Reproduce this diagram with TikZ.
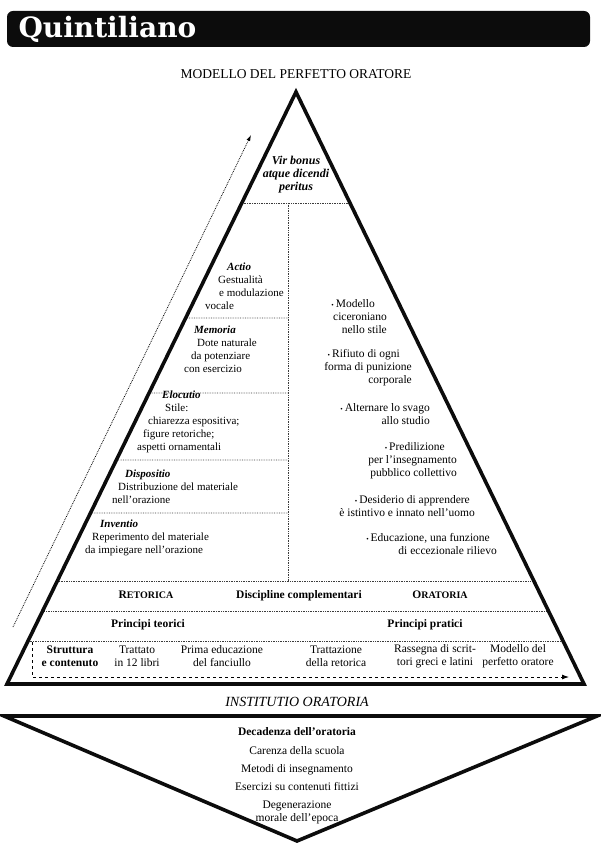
\documentclass[tikz,border=0pt]{standalone}
\usepackage{fontspec}
\setmainfont{Liberation Serif}
\newfontfamily\titlefont{DejaVu Serif}
\usepackage{tikz}
\usetikzlibrary{arrows.meta,calc}
\definecolor{inkblack}{RGB}{12,12,12}
\definecolor{dotgray}{RGB}{60,60,60}

\begin{document}
\begin{tikzpicture}[x=1pt,y=-1pt,>=Stealth,
    edge/.style={line width=3.6pt,inkblack,line join=miter},
    sep/.style={dotgray,densely dotted,line width=0.7pt},
    txt/.style={inner sep=0pt,font=\fontsize{11.5}{13}\selectfont},
    lft/.style={inner sep=0pt,anchor=west,align=left,font=\fontsize{11}{13}\selectfont},
    rgt/.style={inner sep=0pt,anchor=east,align=right,font=\fontsize{11.5}{13}\selectfont},
    hd/.style={inner sep=0pt,font=\fontsize{11.5}{13}\selectfont\bfseries},
    ln/.style={text height=8pt,text depth=2.5pt}]
    \useasboundingbox (0,0) rectangle (600,858);
    % title bar
    \fill[inkblack,rounded corners=6pt] (7,11) rectangle (590,47);
    \node[anchor=west,text=white,font=\titlefont\bfseries\fontsize{28}{30}\selectfont] (title) at (15,29) {Quintiliano};
    \node[font=\fontsize{13.5}{15}\selectfont] (modello) at (296,74) {MODELLO DEL PERFETTO ORATORE};

    % pyramid
    \coordinate (apex) at (296,92); \coordinate (bl) at (7,684); \coordinate (br) at (584,684);
    \foreach \y in {203,581,611,641}
        \draw[sep] ($(apex)!{(\y-92)/592}!(bl)$) -- ($(apex)!{(\y-92)/592}!(br)$);
    \foreach \y in {318,393,460,513}
        \draw[sep] ($(apex)!{(\y-92)/592}!(bl)$) -- (288,\y);
    \draw[sep] (288,203) -- (288,581);
    \draw[edge] (apex) -- (bl) -- (br) -- cycle;

    % arrows
    \coordinate (up0) at (13,627); \coordinate (up1) at (251,135);
    \draw[densely dotted,line width=0.8pt,-{Latex[length=6pt,width=4pt]}] (up0) -- (up1);
    \coordinate (ar0) at (32,642); \coordinate (ar1) at (32,677); \coordinate (ar2) at (569,677);
    \draw[dashed,line width=0.9pt,-{Latex[length=7pt,width=5pt]}] (ar0) -- (ar1) -- (ar2);

    % top
    \node[txt,align=center,font=\fontsize{12}{13}\selectfont\bfseries\itshape] (vir) at (296,175) {Vir bonus\\atque dicendi\\peritus};

    % left column
    \node[lft] (actio) at (205,286) {\hspace*{22pt}\textbf{\textit{Actio}}\\ \hspace*{13pt}Gestualità\\ \hspace*{14pt}e modulazione\\ vocale};
    \node[lft] (memoria) at (184,349) {\hspace*{10pt}\textbf{\textit{Memoria}}\\ \hspace*{13pt}Dote naturale\\ \hspace*{7pt}da potenziare\\ con esercizio};
    \node[lft] (elocutio) at (137,422) {\hspace*{25pt}\textbf{\textit{Elocutio}}\\ \hspace*{28pt}Stile:\\ \hspace*{11pt}chiarezza espositiva;\\ \hspace*{6pt}figure retoriche;\\ aspetti ornamentali};
    \node[lft] (dispositio) at (112,487) {\hspace*{13pt}\textbf{\textit{Dispositio}}\\ \hspace*{6pt}Distribuzione del materiale\\ nell'orazione};
    \node[lft] (inventio) at (85,538) {\hspace*{15pt}\textbf{\textit{Inventio}}\\ \hspace*{7pt}Reperimento del materiale\\ da impiegare nell'orazione};

    % right column
    \node[rgt] (cicerone) at (387,317) {{\scriptsize\textbullet}\,Modello\hspace*{12pt}\\ ciceroniano\hspace*{7pt}\\ nello stile};
    \node[rgt] (rifiuto) at (412,368) {{\scriptsize\textbullet}\,Rifiuto di ogni\hspace*{12pt}\\ forma di punizione\hspace*{5pt}\\ corporale};
    \node[rgt] (svago) at (430,414) {{\scriptsize\textbullet}\,Alternare lo svago\\ allo studio};
    \node[rgt] (pubblico) at (457,461) {{\scriptsize\textbullet}\,Predilizione\hspace*{12pt}\\ per l'insegnamento\hspace*{9pt}\\ pubblico collettivo};
    \node[rgt] (desiderio) at (475,506) {{\scriptsize\textbullet}\,Desiderio di apprendere\hspace*{5pt}\\ è istintivo e innato nell'uomo};
    \node[rgt] (educazione) at (497,544) {{\scriptsize\textbullet}\,Educazione, una funzione\hspace*{7pt}\\ di eccezionale rilievo};

    % rows
    \node[hd,ln] (retorica) at (146,596) {R{\fontsize{10}{13}\selectfont ETORICA}};
    \node[hd,ln] (discipline) at (299,596) {Discipline complementari};
    \node[hd,ln] (oratoria) at (440,596) {O{\fontsize{10}{13}\selectfont RATORIA}};
    \node[hd,ln] (teorici) at (148,625) {Principi teorici};
    \node[hd,ln] (pratici) at (425,625) {Principi pratici};
    \node[hd,align=center] (struttura) at (70,656) {Struttura\\e contenuto};
    \node[txt,align=center] (trattato) at (137,656) {Trattato\\in 12 libri};
    \node[txt,align=center] (prima) at (222,656) {Prima educazione\\del fanciullo};
    \node[txt,align=center] (trattazione) at (336,656) {Trattazione\\della retorica};
    \node[txt,align=center] (rassegna) at (435,656) {Rassegna di scrit-\\tori greci e latini};
    \node[txt,align=center] (perfetto) at (518,656) {Modello del\\perfetto oratore};

    % inverted triangle
    \node[ln,font=\fontsize{14}{15}\selectfont\itshape] (institutio) at (297,704) {INSTITUTIO ORATORIA};
    \draw[edge] (4,716) -- (597,716) -- (297,841) -- cycle;
    \node[hd,ln] (decadenza) at (297,733) {Decadenza dell'oratoria};
    \node[txt,ln] (carenza) at (297,752) {Carenza della scuola};
    \node[txt,ln] (metodi) at (297,770) {Metodi di insegnamento};
    \node[txt,ln] (esercizi) at (297,788) {Esercizi su contenuti fittizi};
    \node[txt,align=center] (degenerazione) at (297,812) {Degenerazione\\morale dell'epoca};
\end{tikzpicture}
\end{document}
